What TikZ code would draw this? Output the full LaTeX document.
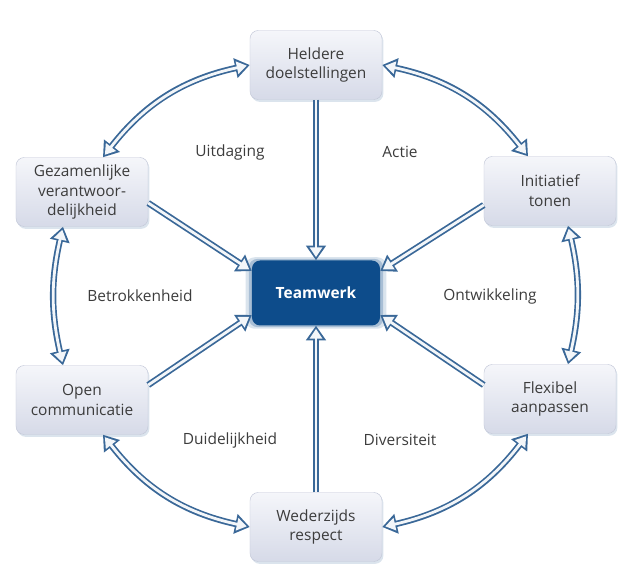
\documentclass[tikz,border=0pt]{standalone}
\usepackage{fontspec}
\setmainfont{Open Sans}
\usepackage{xcolor}
\usepackage{tikz}
\definecolor{pijlblauw}{HTML}{3A6898}
\definecolor{kernblauw}{HTML}{0D4C8B}
\definecolor{kadertop}{HTML}{F5F6FA}
\definecolor{kaderonder}{HTML}{D6DAE8}
\definecolor{kaderrand}{HTML}{C3C8D8}
\definecolor{tekstgrijs}{HTML}{3C3C3C}
\usetikzlibrary{arrows.meta, shadows, calc}

\begin{document}
\begin{tikzpicture}[x=0.03cm, y=0.03cm,
	kader/.style={draw=kaderrand, line width=0.4pt, rounded corners=7pt, top color=kadertop, bottom color=kaderonder, minimum width=3.96cm, minimum height=2.07cm, align=center, text=tekstgrijs, font=\fontsize{13.2}{17}\selectfont, drop shadow={shadow xshift=1.2pt, shadow yshift=-2pt, fill=pijlblauw!45, opacity=.4}},
	kern/.style={fill=kernblauw, rounded corners=7pt, minimum width=3.84cm, minimum height=1.95cm, text=white, font=\fontsize{13.2}{17}\selectfont\bfseries, general shadow={shadow scale=1.1, fill=kernblauw!30, opacity=.5}, general shadow={shadow scale=1.05, fill=kernblauw!50, opacity=.6}},
	thema/.style={text=tekstgrijs, font=\fontsize{13.2}{17}\selectfont},
	pijl/.style={draw=pijlblauw!6, line width=2.4pt, shorten >=2.6pt, -{Triangle[length=8.5pt,width=10.5pt]}, preaction={draw=pijlblauw, line width=5.4pt, shorten >=0pt, -{Triangle[length=12.5pt,width=16.5pt]}}},
	ring/.style={draw=pijlblauw!6, line width=2.4pt, shorten >=2.6pt, shorten <=2.6pt, {Triangle[length=8.5pt,width=10.5pt]}-{Triangle[length=8.5pt,width=10.5pt]}, preaction={draw=pijlblauw, line width=5.4pt, shorten >=0pt, shorten <=0pt, {Triangle[length=12.5pt,width=16.5pt]}-{Triangle[length=12.5pt,width=16.5pt]}}}]
			\useasboundingbox (0,0) rectangle (630,-573);
			\node[kern] (team) at (316,-293) {Teamwerk};
			\node[kader] (held) at (316,-65) {Heldere\\doelstellingen};
			\node[kader] (init) at (550,-191) {Initiatief\\tonen};
			\node[kader] (flex) at (550,-399) {Flexibel\\aanpassen};
			\node[kader] (wed) at (316,-527) {Wederzijds\\respect};
			\node[kader] (open) at (82,-400) {Open\\communicatie};
			\node[kader] (gez) at (82,-192) {Gezamenlijke\\verantwoor-\\delijkheid};
			
			\node[thema] (uit) at (230,-152) {Uitdaging};
			\node[thema] (act) at (400,-152) {Actie};
			\node[thema] (betr) at (140,-296) {Betrokkenheid};
			\node[thema] (ontw) at (490,-296) {Ontwikkeling};
			\node[thema] (duid) at (230,-440) {Duidelijkheid};
			\node[thema] (div) at (400,-440) {Diversiteit};
			
			\draw[pijl] (held.south) -- (team.north);
			\draw[pijl] (wed.north) -- (team.south);
			\draw[pijl] ($(gez.east)+(0,-11)$) -- ($(team.west)+(0,22)$);
			\draw[pijl] ($(init.west)+(0,-14)$) -- ($(team.east)+(0,22)$);
			\draw[pijl] ($(open.east)+(0,15)$) -- ($(team.west)+(0,-22)$);
			\draw[pijl] ($(flex.west)+(0,14)$) -- ($(team.east)+(0,-22)$);
			
			\draw[ring] (held.east) to[bend left=20] ($(init.north)+(-22,0)$);
			\draw[ring] ($(init.south)+(18,0)$) to[bend left=13] ($(flex.north)+(18,0)$);
			\draw[ring] ($(flex.south)+(-22,0)$) to[bend left=20] (wed.east);
			\draw[ring] (wed.west) to[bend left=20] ($(open.south)+(21,0)$);
			\draw[ring] ($(open.north)+(-19,0)$) to[bend left=13] ($(gez.south)+(-19,0)$);
			\draw[ring] ($(gez.north)+(21,0)$) to[bend left=20] (held.west);
			
			
			\end{tikzpicture}
\end{document}
